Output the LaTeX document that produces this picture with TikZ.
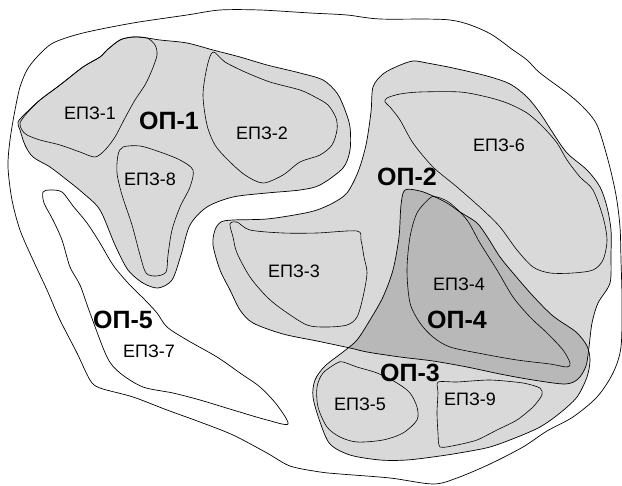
\documentclass[tikz,border=0pt]{standalone}
\usepackage{fontspec}
\setmainfont{Liberation Sans}
\definecolor{lightg}{gray}{0.85}
\definecolor{darkg}{gray}{0.72}
\tikzset{
  region/.style={draw=black, line width=0.7pt},
  zone/.style={draw=black, line width=0.6pt},
  oplabel/.style={font=\fontsize{25}{25}\selectfont\bfseries, inner sep=0pt},
  zlabel/.style={font=\fontsize{18}{18}\selectfont, inner sep=0pt},
}
\newcommand\pOuter{plot[smooth cycle, tension=0.5] coordinates {(10,140) (15,110) (20,87) (27,70) (37,57) (53,43) (83,33) (133,23) (187,15) (220,10) (260,10) (310,13) (347,15) (380,19) (450,20) (487,32) (513,50) (527,60) (540,73) (567,93) (583,107) (597,125) (608,160) (616,195) (620,227) (621,260) (622,300) (621,347) (613,373) (597,397) (573,417) (547,431) (523,447) (490,464) (457,478) (433,484) (390,478) (340,474) (320,472) (290,466) (267,453) (233,435) (200,422) (167,410) (133,397) (100,388) (90,380) (77,353) (60,320) (47,290) (33,260) (20,230) (12,200) (8,167)}}
\newcommand\pOPfive{plot[smooth cycle, tension=0.5] coordinates {(43,192) (50,190) (62,192) (73,206) (87,223) (100,243) (113,265) (128,283) (145,300) (157,313) (167,327) (187,340) (217,357) (240,373) (260,387) (277,405) (288,424) (267,420) (233,410) (200,400) (173,393) (143,387) (120,373) (107,357) (90,313) (80,285) (70,267) (62,240) (53,220) (44,203)}}
\newcommand\pOPone{plot[smooth cycle, tension=0.5] coordinates {(147,38) (160,40) (187,43) (213,50) (240,57) (267,65) (300,73) (323,80) (337,93) (345,110) (350,127) (350,150) (343,168) (320,185) (300,190) (267,193) (233,197) (207,207) (190,225) (181,255) (172,280) (158,288) (143,283) (128,270) (115,245) (100,210) (83,193) (67,180) (50,167) (33,157) (25,145) (20,130) (18,122) (27,112) (40,100) (60,85) (83,67) (100,57) (107,50) (120,40) (133,37)}}
\newcommand\pEPZone{plot[smooth cycle, tension=0.5] coordinates {(147,38) (155,45) (157,55) (152,70) (145,85) (135,100) (125,118) (115,137) (105,150) (95,157) (80,152) (60,145) (40,140) (27,135) (22,130) (20,123) (27,113) (40,100) (60,85) (83,67) (100,57) (107,50) (120,40) (133,37)}}
\newcommand\pEPZtwo{plot[smooth cycle, tension=0.5] coordinates {(213,52) (225,62) (245,72) (270,82) (300,90) (315,97) (328,105) (336,118) (337,130) (332,145) (320,155) (300,162) (283,175) (263,183) (245,175) (228,160) (215,145) (207,125) (203,95) (207,67)}}
\newcommand\pEPZeight{plot[smooth cycle, tension=0.5] coordinates {(123,147) (140,146) (160,152) (180,160) (193,170) (190,187) (180,207) (172,230) (168,255) (166,272) (156,276) (146,273) (140,255) (132,225) (122,195) (117,173) (118,155)}}
\newcommand\pOPtwo{plot[smooth cycle, tension=0.5] coordinates {(373,87) (383,74) (398,66) (413,61) (427,63) (453,68) (487,76) (510,84) (527,97) (540,113) (553,133) (567,153) (587,170) (600,187) (607,207) (611,230) (611,255) (610,283) (598,303) (592,323) (589,347) (586,366) (578,379) (565,384) (533,380) (500,374) (467,367) (433,361) (400,357) (367,352) (350,348) (317,341) (283,334) (253,323) (240,310) (230,290) (220,270) (213,245) (215,230) (221,222) (233,220) (267,219) (300,214) (317,210) (333,203) (347,193) (358,172) (366,145) (371,112)}}
\newcommand\pOPthree{plot[smooth cycle, tension=0.5] coordinates {(405,190) (420,191) (433,196) (447,203) (460,212) (477,223) (488,238) (500,257) (513,273) (533,296) (553,316) (576,332) (587,346) (590,360) (587,377) (577,397) (560,413) (540,427) (515,438) (490,447) (465,452) (440,456) (407,460) (380,460) (350,455) (330,444) (320,422) (313,397) (315,380) (325,366) (343,352) (357,340) (370,320) (383,297) (393,270) (399,237) (401,205)}}
\newcommand\pEPZfour{plot[smooth cycle, tension=0.5] coordinates {(430,198) (437,197) (450,203) (467,220) (480,243) (497,270) (513,297) (530,317) (547,333) (563,350) (570,363) (567,367) (550,364) (517,360) (483,354) (450,347) (433,337) (420,323) (410,303) (407,270) (410,237) (417,213)}}
\newcommand\pEPZsix{plot[smooth cycle, tension=0.5] coordinates {(387,98) (400,94) (420,92) (460,92) (487,97) (507,103) (527,113) (543,127) (557,143) (567,160) (580,177) (593,190) (603,217) (607,240) (603,260) (593,270) (573,273) (550,273) (533,267) (517,250) (500,227) (483,210) (457,187) (433,167) (413,143) (400,120) (390,107) (385,102)}}
\newcommand\pEPZthree{plot[smooth cycle, tension=0.5] coordinates {(230,224) (237,222) (250,230) (283,233) (317,233) (357,231) (361,240) (364,257) (367,273) (363,297) (357,317) (347,325) (327,327) (307,325) (283,310) (267,297) (250,277) (237,253) (233,237)}}
\newcommand\pEPZfive{plot[smooth cycle, tension=0.5] coordinates {(337,363) (323,373) (317,387) (318,407) (327,427) (340,437) (357,442) (383,440) (403,433) (417,420) (417,407) (410,393) (397,383) (377,373) (357,367) (343,362)}}
\newcommand\pEPZnine{plot[smooth cycle, tension=0.4] coordinates {(438,382) (457,382) (490,380) (523,383) (540,388) (542,395) (533,407) (517,420) (497,430) (477,440) (457,445) (440,447) (438,433) (437,413) (438,393)}}
\begin{document}
\begin{tikzpicture}[x=1pt, y=-1pt]
\useasboundingbox (0,0) rectangle (622,486);
% outer contour and white zone
\draw[region, fill=white] \pOuter;
\draw[region, fill=white] \pOPfive;
% grey regions
\fill[lightg] \pOPone;
\fill[lightg] \pOPtwo;
\fill[lightg] \pOPthree;
\begin{scope}
  \clip \pOPtwo;
  \fill[darkg] \pOPthree;
\end{scope}
\draw[region] \pOPone;
\draw[region] \pOPtwo;
\draw[region] \pOPthree;
% inner zones
\draw[zone] \pEPZone;
\draw[zone] \pEPZtwo;
\draw[zone] \pEPZeight;
\draw[zone] \pEPZsix;
\draw[zone] \pEPZthree;
\draw[zone] \pEPZfour;
\draw[zone] \pEPZfive;
\draw[zone] \pEPZnine;
% labels
\node[oplabel] (op1) at (169,121) {ОП-1};
\node[oplabel] (op2) at (407,177) {ОП-2};
\node[oplabel] (op3) at (410,373) {ОП-3};
\node[oplabel] (op4) at (457,320) {ОП-4};
\node[oplabel] (op5) at (123,320) {ОП-5};
\node[zlabel] (z1) at (90,113) {ЕПЗ-1};
\node[zlabel] (z2) at (262,133) {ЕПЗ-2};
\node[zlabel] (z3) at (294,271) {ЕПЗ-3};
\node[zlabel] (z4) at (459,284) {ЕПЗ-4};
\node[zlabel] (z5) at (360,404) {ЕПЗ-5};
\node[zlabel] (z6) at (499,145) {ЕПЗ-6};
\node[zlabel] (z7) at (149,351) {ЕПЗ-7};
\node[zlabel] (z8) at (150,179) {ЕПЗ-8};
\node[zlabel] (z9) at (470,399) {ЕПЗ-9};
\end{tikzpicture}
\end{document}
